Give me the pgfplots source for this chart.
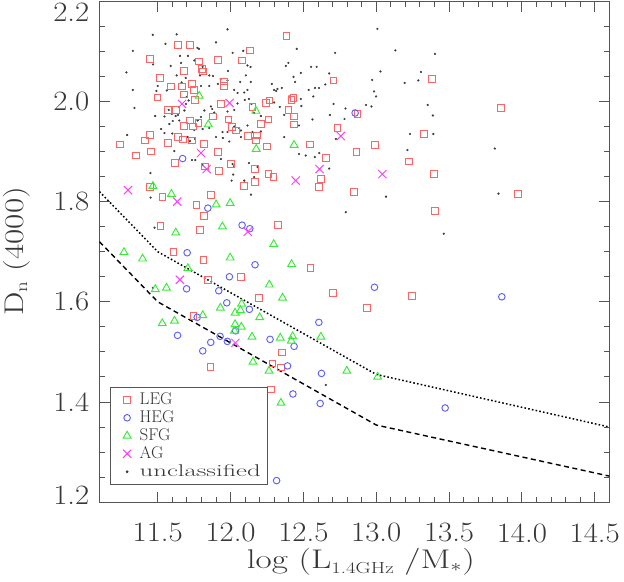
\documentclass[border=0pt]{standalone}
\usepackage{pgfplots}
\pgfplotsset{compat=1.18}
\usepackage{graphicx}
\definecolor{axgray}{RGB}{85,85,85}
\definecolor{txtgray}{RGB}{55,55,55}
\definecolor{legred}{RGB}{255,100,100}
\definecolor{hegblue}{RGB}{95,95,255}
\definecolor{sfggreen}{RGB}{55,235,55}
\definecolor{agmag}{RGB}{255,60,255}
\definecolor{dotgray}{RGB}{60,60,60}
\newcommand{\tl}[1]{\scalebox{1.1}[1]{#1}}
\begin{document}
\begin{tikzpicture}
\path[use as bounding box] (-99.5bp,-79.7bp) rectangle (524.7bp,502.3bp);
\begin{axis}[
  at={(0,0)}, anchor=south west,
  scale only axis, width=510bp, height=501bp,
  xmin=11.1, xmax=14.6, ymin=1.2, ymax=2.2,
  xtick={11.5,12.0,12.5,13.0,13.5,14.0,14.5},
  xticklabels={\tl{11.5},\tl{12.0},\tl{12.5},\tl{13.0},\tl{13.5},\tl{14.0},\tl{14.5}},
  ytick={1.2,1.4,1.6,1.8,2.0,2.2},
  yticklabels={,\tl{1.4},\tl{1.6},\tl{1.8},\tl{2.0},},
  minor x tick num=4, minor y tick num=3,
  tick align=inside,
  major tick length=10.5bp, minor tick length=5.5bp,
  axis line style={axgray, line width=0.9bp},
  every tick/.style={axgray, line width=0.9bp},
  tick label style={font=\fontsize{28bp}{30bp}\selectfont, text=txtgray, inner sep=0pt},
  xticklabel style={yshift=-21bp},
  yticklabel style={xshift=-10bp},
  legend image code/.code={\path[draw=none,fill=none] (-3.7bp,-4bp) rectangle (12bp,4bp); \draw[mark repeat=2,mark phase=2,#1] plot coordinates {(0bp,0bp)(6bp,0bp)(12bp,0bp)};},
  legend style={at={(rel axis cs:0.0206,0.2302)}, anchor=north west, draw=axgray, line width=0.9bp, fill=white,
    font=\fontsize{17bp}{18bp}\selectfont, text=txtgray, inner xsep=7bp, inner ysep=5bp, row sep=3bp, column sep=6.6bp,
    nodes={inner sep=0pt, text height=12bp, text depth=3bp}},
  legend cell align=left,
]
% unclassified
\addplot[only marks, mark=*, mark size=0.9bp, dotgray, forget plot] coordinates {
(11.466,2.133) (11.630,2.134) (11.979,2.144) (11.329,2.101) (11.553,2.115) (11.772,2.107) (11.783,2.105) (11.900,2.118)
(11.653,2.091) (11.708,2.091) (11.751,2.082) (12.014,2.097) (12.087,2.101) (11.468,2.074) (11.285,2.058) (11.589,2.071)
(11.660,2.077) (11.982,2.061) (11.808,2.069) (11.854,2.052) (11.790,2.052) (11.879,2.051) (12.137,2.069) (12.116,2.072)
(12.105,2.052) (12.066,2.039) (12.139,2.039) (12.379,2.071) (12.397,2.077) (12.454,2.105) (12.482,2.057) (12.432,2.049)
(12.443,2.039) (12.553,2.069) (12.591,2.069) (12.580,2.027) (11.500,2.031) (11.491,2.021) (11.562,2.022) (11.664,2.038)
(11.692,2.047) (11.630,2.052) (11.797,2.031) (11.854,2.031) (11.913,2.035) (11.932,2.045) (11.979,2.042) (12.025,2.023)
(12.048,2.017) (12.094,2.018) (12.116,2.023) (12.283,2.035) (12.299,2.023) (12.313,2.021) (12.322,2.025) (12.352,2.027)
(12.402,2.010) (12.482,2.005) (12.486,1.991) (12.568,2.010) (12.607,2.027) (11.329,2.023) (11.340,1.987) (11.482,1.971)
(11.546,1.970) (11.575,1.983) (11.596,1.975) (11.623,1.971) (11.639,1.973) (11.683,1.982) (11.694,1.995) (11.699,2.009)
(11.712,2.002) (11.820,1.982) (11.865,1.990) (11.874,1.985) (11.888,1.978) (11.979,1.980) (12.025,1.983) (12.048,1.996)
(12.098,2.003) (12.126,2.005) (12.144,1.995) (12.162,1.977) (12.208,1.971) (12.299,1.998) (12.338,1.989) (12.368,1.973)
(12.470,1.952) (12.562,1.964) (11.523,1.945) (11.546,1.937) (11.580,1.955) (11.603,1.961) (11.648,1.962) (11.774,1.962)
(11.797,1.969) (11.751,1.943) (11.808,1.945) (11.854,1.947) (11.945,1.939) (11.979,1.939) (12.025,1.950) (12.059,1.947)
(12.071,1.942) (12.116,1.952) (12.151,1.939) (12.208,1.940) (11.290,1.933) (11.600,1.936) (11.705,1.929) (11.721,1.921)
(11.756,1.925) (11.900,1.929) (11.947,1.927) (11.991,1.920) (12.071,1.929) (12.368,1.929) (12.470,1.895) (12.516,1.892)
(12.578,1.889) (11.614,1.901) (11.735,1.883) (11.758,1.883) (11.808,1.873) (11.934,1.885) (12.014,1.875) (12.018,1.854)
(12.007,1.842) (12.126,1.877) (12.025,1.871) (11.450,1.857) (12.094,1.842) (12.162,1.849) (12.185,1.869)
(13.008,2.145) (12.718,2.097) (13.131,2.102) (13.403,2.095) (12.677,2.056) (13.029,2.060) (13.307,2.059) (12.972,2.043)
(13.195,2.037) (13.289,2.042) (12.650,2.034) (12.536,2.023) (12.985,2.020) (12.999,2.010) (12.707,1.995) (12.930,1.993)
(12.967,1.990) (12.789,1.986) (13.353,1.993) (12.682,1.973) (12.782,1.965) (13.389,1.972) (12.723,1.925) (13.232,1.935)
(13.392,1.935) (12.609,1.897) (12.677,1.866) (13.214,1.903) (13.814,1.906) (13.067,1.810) (13.839,1.816)
(11.451,1.808) (12.140,1.814) (11.478,1.748) (12.791,1.779) (11.467,1.628) (13.464,1.736) (12.654,1.434)
};
% LEG
\addplot[only marks, mark=square, mark size=3.4bp, legred, line width=0.95bp] coordinates {
(12.384,2.131) (11.639,2.113) (11.719,2.112) (12.135,2.102) (11.447,2.085) (11.913,2.083) (11.783,2.080) (12.078,2.082)
(11.678,2.061) (11.806,2.065) (11.813,2.060) (11.514,2.047) (11.952,2.040) (11.957,2.031) (11.735,2.035) (11.591,2.030)
(11.667,2.030) (11.747,2.023) (11.678,2.014) (11.498,2.008) (11.758,2.003) (11.932,1.995) (11.571,1.983) (11.623,1.983)
(12.151,1.989) (12.244,1.997) (12.267,2.002) (12.418,2.003) (12.432,2.007) (12.397,1.983) (11.724,1.962) (11.779,1.957)
(11.877,1.970) (11.678,1.951) (11.744,1.950) (11.986,1.964) (12.009,1.949) (12.039,1.942) (12.208,1.955) (12.260,1.964)
(12.436,1.970) (12.436,1.954) (11.445,1.933) (11.413,1.922) (11.240,1.914) (11.568,1.917) (11.637,1.929) (11.673,1.924)
(11.733,1.922) (11.817,1.915) (12.121,1.931) (12.180,1.932) (12.176,1.922) (12.249,1.910) (11.349,1.892) (11.451,1.900)
(11.916,1.899) (11.619,1.877) (12.005,1.875) (11.824,1.870) (11.918,1.861) (12.169,1.865) (12.260,1.855) (12.295,1.850)
(12.093,1.832) (12.166,1.840) (11.447,1.829) (11.532,1.810) (11.863,1.813)
(12.707,2.042) (13.383,2.045) (12.871,1.975) (13.857,1.987) (12.734,1.947) (12.545,1.914) (12.654,1.887) (12.864,1.899)
(12.990,1.913) (13.328,1.935) (13.227,1.880) (13.399,1.855) (12.620,1.845) (12.609,1.830) (12.848,1.819) (13.972,1.815)
(11.766,1.793) (11.820,1.771) (11.519,1.751) (11.788,1.744) (12.326,1.753) (11.608,1.699) (11.814,1.684) (12.072,1.650)
(11.846,1.644) (12.549,1.667) (12.197,1.608) (12.702,1.618) (12.935,1.587) (11.745,1.572) (12.352,1.499) (11.862,1.470)
(12.287,1.477) (12.347,1.469) (12.277,1.425) (13.405,1.782) (13.245,1.611)
};
\addlegendentry{LEG}
% HEG
\addplot[only marks, mark=o, mark size=3.3bp, hegblue, line width=0.95bp] coordinates {
(11.671,1.886) (12.855,1.977) (11.844,1.787) (12.079,1.753) (12.132,1.746) (11.702,1.698) (12.168,1.674) (11.992,1.650)
(11.698,1.626) (11.919,1.622) (11.974,1.598) (12.129,1.585) (12.988,1.629) (11.771,1.569) (12.035,1.542) (12.606,1.559)
(11.636,1.533) (11.928,1.531) (11.864,1.519) (11.978,1.521) (11.809,1.502) (12.271,1.525) (12.436,1.511) (12.391,1.472)
(12.624,1.457) (12.428,1.416) (12.615,1.397) (12.316,1.243) (13.862,1.610) (13.473,1.388)
};
\addlegendentry{HEG}
% SFG
\addplot[only marks, mark=triangle, mark size=4.5bp, sfggreen, line width=0.95bp] coordinates {
(11.785,2.011) (11.847,1.954) (12.174,1.981) (12.176,1.905) (12.436,1.913) (11.467,1.831) (11.594,1.815) (11.901,1.794)
(11.997,1.797) (11.944,1.750) (11.624,1.738) (12.296,1.715) (11.268,1.699) (11.396,1.686) (11.997,1.688) (11.707,1.667)
(12.419,1.675) (11.483,1.625) (11.560,1.628) (12.266,1.634) (12.357,1.608) (11.930,1.588) (12.076,1.596) (12.068,1.583)
(12.031,1.578) (11.809,1.573) (12.200,1.569) (11.531,1.557) (11.615,1.562) (12.031,1.555) (12.074,1.550) (12.026,1.542)
(12.147,1.530) (12.341,1.528) (12.426,1.531) (12.417,1.522) (12.620,1.530) (12.154,1.480) (12.264,1.462) (12.798,1.462)
(13.010,1.450) (12.346,1.398)
};
\addlegendentry{SFG}
% AG
\addplot[only marks, mark=x, mark size=5.8bp, agmag, line width=0.95bp] coordinates {
(11.667,1.995) (11.993,1.997) (11.797,1.897) (11.836,1.865) (12.447,1.842) (11.296,1.823) (12.611,1.865) (12.757,1.931)
(13.042,1.855) (11.634,1.800) (12.118,1.740) (11.652,1.644) (12.033,1.518)
};
\addlegendentry{AG}
\addlegendimage{only marks, mark=*, mark size=0.9bp, dotgray}
\addlegendentry{\resizebox{121bp}{\height}{unclassified}}
% boundary lines
\addplot[black, line width=1.5bp, dash pattern=on 1.6bp off 2.2bp, forget plot] coordinates {
(11.1,1.820) (11.5,1.700) (13.0,1.455) (14.6,1.350)};
\addplot[black, line width=1.4bp, dash pattern=on 5bp off 3.5bp, forget plot] coordinates {
(11.1,1.720) (11.5,1.600) (13.0,1.354) (14.6,1.252)};
\end{axis}
% end tick labels, shifted inward as in the reference
\node[anchor=east, inner sep=0pt, text=txtgray, font=\fontsize{28bp}{30bp}\selectfont] at (-10bp,490bp) {\tl{2.2}};
\node[anchor=east, inner sep=0pt, text=txtgray, font=\fontsize{28bp}{30bp}\selectfont] at (-10bp,6.5bp) {\tl{1.2}};
% axis titles
\node[rotate=90, anchor=base, text=txtgray, font=\fontsize{27bp}{28bp}\selectfont] at (-76.2bp,250.8bp)
  {\resizebox{129bp}{\height}{D$_{\mathrm{n}}$ (4000)}};
\node[anchor=base west, inner sep=0pt, text=txtgray, font=\fontsize{27bp}{28bp}\selectfont] at (147.2bp,-66bp)
  {\resizebox{228bp}{\height}{log (L\raisebox{-5bp}{\fontsize{16bp}{16bp}\selectfont 1.4GHz} /M$_*$)}};
\end{tikzpicture}
\end{document}
